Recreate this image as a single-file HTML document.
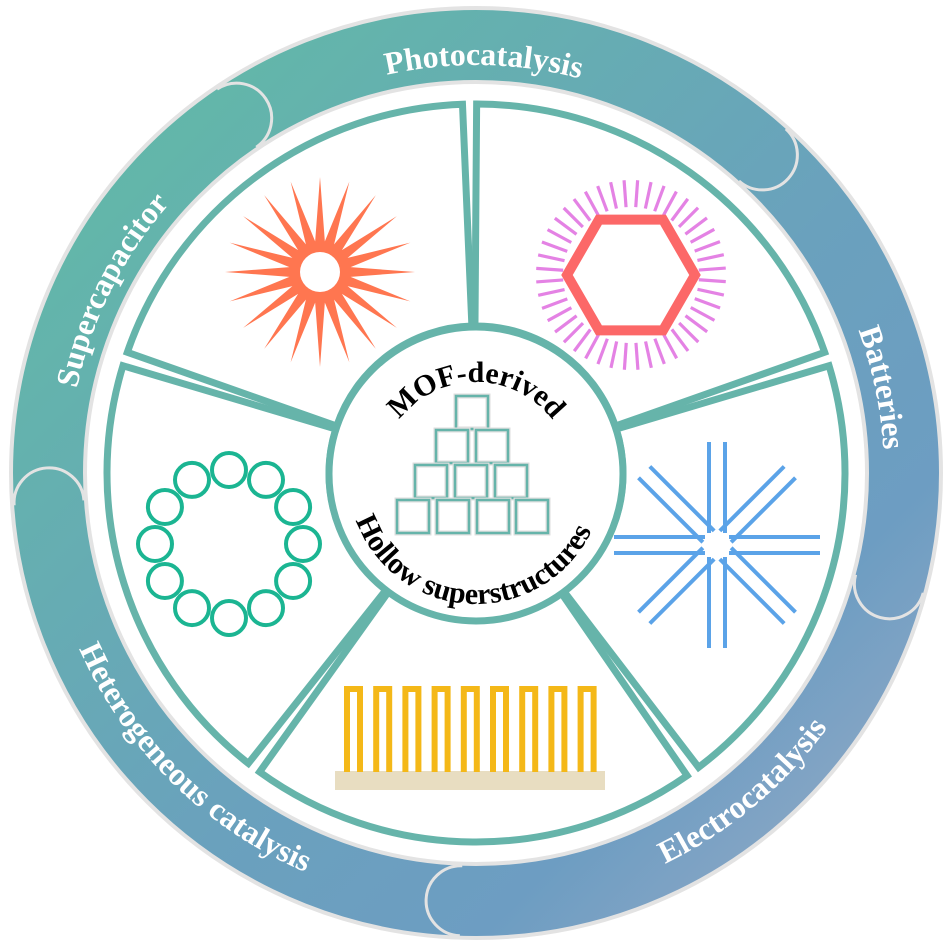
<!DOCTYPE html>
<html><head><meta charset="utf-8">
<style>
html,body{margin:0;padding:0;background:#fff;}
svg{display:block;}
.rt{font-family:"Liberation Serif",serif;font-weight:bold;font-size:32px;fill:#fff;}
.ct{font-family:"Liberation Serif",serif;font-weight:bold;font-size:30px;fill:#000;}
</style></head>
<body>
<svg id="s" width="951" height="945" viewBox="0 0 951 945" xmlns="http://www.w3.org/2000/svg">
<defs>
<linearGradient id="g" gradientUnits="userSpaceOnUse" x1="120" y1="120" x2="860" y2="850">
<stop offset="0" stop-color="#62b8a8"/>
<stop offset="0.55" stop-color="#6aa1bd"/>
<stop offset="0.8" stop-color="#6d9dc2"/>
<stop offset="1" stop-color="#8ea8c6"/>
</linearGradient>
<path id="cw" d="M68,473 A408,408 0 1 1 884,473 A408,408 0 1 1 68,473"/>
<path id="ccw" d="M910,473 A434,434 0 1 0 42,473 A434,434 0 1 0 910,473"/>
<path id="mcw" d="M380,478 A96,96 0 1 1 572,478 A96,96 0 1 1 380,478"/>
<path id="mccw" d="M604,476 A128,128 0 1 0 348,476 A128,128 0 1 0 604,476"/>
</defs>
<g id="ring"></g>
<g id="panels"></g>
<g id="icons"></g>
<text class="rt"><textPath href="#cw" startOffset="25.3%" text-anchor="middle">Photocatalysis</textPath></text>
<text class="rt"><textPath href="#cw" startOffset="46.7%" text-anchor="middle">Batteries</textPath></text>
<text class="rt"><textPath href="#cw" startOffset="7.4%" text-anchor="middle">Supercapacitor</textPath></text>
<text class="rt"><textPath href="#ccw" startOffset="86.1%" text-anchor="middle">Electrocatalysis</textPath></text>
<text class="rt"><textPath href="#ccw" startOffset="62.6%" text-anchor="middle">Heterogeneous catalysis</textPath></text>
<text class="ct"><textPath href="#mcw" startOffset="25%" text-anchor="middle">MOF-derived</textPath></text>
<text class="ct"><textPath href="#mccw" startOffset="74.3%" text-anchor="middle">Hollow superstructures</textPath></text>
</svg>
<script>
(function(){
var NS="http://www.w3.org/2000/svg";
function el(p,t,a){var e=document.createElementNS(NS,t);for(var k in a)e.setAttribute(k,a[k]);p.appendChild(e);return e;}
var cx=476,cy=473,R=Math.PI/180;
function pt(r,a){return [cx+r*Math.cos(a*R),cy+r*Math.sin(a*R)];}
var ring=document.getElementById('ring');
el(ring,'circle',{cx:cx,cy:cy,r:428,fill:'none',stroke:'#e3e3e3','stroke-width':78});
el(ring,'circle',{cx:cx,cy:cy,r:428,fill:'none',stroke:'url(#g)','stroke-width':70});
[-124,-48,15,92,176].forEach(function(a){
  var P=pt(428,a),n=[Math.cos(a*R),Math.sin(a*R)],r=35;
  var A=[P[0]+r*n[0],P[1]+r*n[1]],B=[P[0]-r*n[0],P[1]-r*n[1]];
  el(ring,'path',{d:'M'+A+' A35,35 0 0 1 '+B+' Z',fill:'url(#g)'});
  el(ring,'path',{d:'M'+A+' A35,35 0 0 1 '+B,fill:'none',stroke:'#e3e3e3','stroke-width':3});
});
var pan=document.getElementById('panels');
var dv=[-91,-18,54,127,198,269];
var ro=369,ri=147;
for(var i=0;i<5;i++){
  var d1=dv[i],d2=dv[i+1];
  var a1o=d1+1.1,a2o=d2-1.1,a1i=d1+0.6,a2i=d2-0.6;
  var p1=pt(ri,a1i),p2=pt(ro,a1o),p3=pt(ro,a2o),p4=pt(ri,a2i);
  el(pan,'path',{d:'M'+p1+' L'+p2+' A'+ro+','+ro+' 0 0 1 '+p3+' L'+p4+' A'+ri+','+ri+' 0 0 0 '+p1+' Z',fill:'#fff',stroke:'#66b4aa','stroke-width':7,'stroke-linejoin':'miter'});
}
el(pan,'circle',{cx:cx,cy:cy+1,r:147,fill:'#fff',stroke:'#66b4aa','stroke-width':7});
var ic=document.getElementById('icons');
var rows=[[456],[436,476],[415,455,495],[397,437,477,516]],ys=[396,430,465,500];
rows.forEach(function(r,j){r.forEach(function(x){
  el(ic,'rect',{x:x,y:ys[j],width:32,height:33,fill:'#fff',stroke:'#dedede','stroke-width':5});
  el(ic,'rect',{x:x,y:ys[j],width:32,height:33,fill:'none',stroke:'#66b4aa','stroke-width':2.5});
});});
var sx=320,sy=272,d='';
for(var k=0;k<40;k++){var a=-90+k*9,r=(k%2==0)?95:31;d+=(k?'L':'M')+(sx+r*Math.cos(a*R))+','+(sy+r*Math.sin(a*R));}
el(ic,'path',{d:d+'Z',fill:'#ff7650'});
el(ic,'circle',{cx:sx,cy:sy,r:20,fill:'#fff'});
var hx=631,hy=275;
for(var k=0;k<44;k++){var a=k*360/44+4;var c=Math.cos(a*R),s=Math.sin(a*R);
  el(ic,'line',{x1:hx+68*c,y1:hy+68*s,x2:hx+95*c,y2:hy+95*s,stroke:'#e482e4','stroke-width':3.2});}
var hp='';for(var k=0;k<6;k++){var a=k*60;hp+=(k?'L':'M')+(hx+64*Math.cos(a*R))+','+(hy+64*Math.sin(a*R));}
el(ic,'path',{d:hp+'Z',fill:'#fff',stroke:'#fc6868','stroke-width':10,'stroke-linejoin':'miter'});
for(var k=0;k<12;k++){var a=-90+k*30;
  el(ic,'circle',{cx:229+74*Math.cos(a*R),cy:544+74*Math.sin(a*R),r:17,fill:'none',stroke:'#1bb592','stroke-width':4});}
var ax=717,ay=545;
[0,45,90,135].forEach(function(a){
  var c=Math.cos(a*R),s=Math.sin(a*R),px=-s,py=c;
  [-8,8].forEach(function(o){
    [[12,103],[-12,-103]].forEach(function(L){
      el(ic,'line',{x1:ax+L[0]*c+o*px,y1:ay+L[0]*s+o*py,x2:ax+L[1]*c+o*px,y2:ay+L[1]*s+o*py,stroke:'#5ba3e8','stroke-width':4});
    });
  });
});
el(ic,'rect',{x:335,y:771,width:270,height:19,fill:'#e8ddc1'});
for(var k=0;k<9;k++){var x=344+k*29.2;
  el(ic,'path',{d:'M'+(x+3)+',772 V689 H'+(x+16)+' V772',fill:'none',stroke:'#f4b818','stroke-width':6});}
})();
</script>
</body></html>
